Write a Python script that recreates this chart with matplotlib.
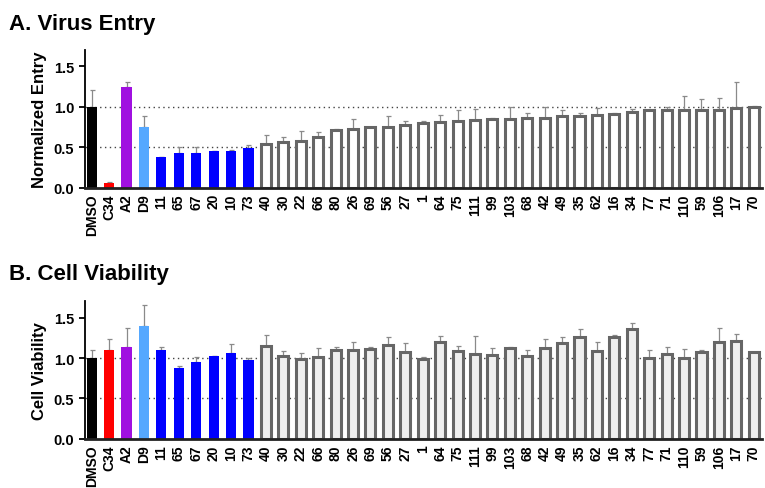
import matplotlib
matplotlib.use("Agg")
import matplotlib.pyplot as plt
import numpy as np

plt.rcParams['font.family'] = ['Liberation Sans', 'DejaVu Sans']
plt.rcParams['font.weight'] = 'bold'

labels = ['DMSO', 'C34', 'A2', 'D9', '11', '65', '67', '20', '10', '73',
          '40', '30', '22', '66', '80', '26', '69', '56', '27', '1',
          '64', '75', '111', '99', '103', '68', '42', '49', '35', '62',
          '16', '34', '77', '71', '110', '59', '106', '17', '70']

entry = [1.00, 0.05, 1.245, 0.75, 0.38, 0.425, 0.43, 0.45, 0.45, 0.495,
         0.54, 0.56, 0.575, 0.625, 0.715, 0.72, 0.745, 0.75, 0.78, 0.795,
         0.815, 0.83, 0.84, 0.845, 0.855, 0.86, 0.865, 0.88, 0.89, 0.90,
         0.915, 0.94, 0.955, 0.958, 0.96, 0.963, 0.965, 0.99, 1.00]
entry_err = [0.21, 0.02, 0.065, 0.14, 0.0, 0.075, 0.07, 0.0, 0.02, 0.035,
             0.11, 0.06, 0.13, 0.065, 0.015, 0.13, 0.007, 0.13, 0.05, 0.025,
             0.085, 0.135, 0.135, 0.02, 0.14, 0.065, 0.135, 0.08, 0.035, 0.08,
             0.007, 0.035, 0.007, 0.042, 0.17, 0.135, 0.145, 0.32, 0.005]

viab = [1.00, 1.095, 1.135, 1.40, 1.095, 0.872, 0.95, 1.025, 1.066, 0.971,
        1.15, 1.025, 0.983, 1.012, 1.103, 1.10, 1.116, 1.157, 1.07, 0.99,
        1.20, 1.087, 1.045, 1.037, 1.12, 1.029, 1.124, 1.19, 1.264, 1.083,
        1.26, 1.355, 1.004, 1.05, 0.996, 1.078, 1.198, 1.207, 1.074]
viab_err = [0.095, 0.145, 0.235, 0.26, 0.045, 0.033, 0.066, 0.0, 0.11, 0.03,
            0.14, 0.065, 0.083, 0.108, 0.037, 0.10, 0.02, 0.107, 0.116, 0.018,
            0.07, 0.062, 0.232, 0.091, 0.016, 0.074, 0.112, 0.066, 0.096, 0.117,
            0.03, 0.083, 0.096, 0.086, 0.12, 0.025, 0.178, 0.086, 0.005]

colored = ['black', '#ff0000', '#a010e0', '#55a8ff'] + ['#0000ff'] * 6
n_col = len(colored)


def draw_panel(ax, vals, errs, hollow_fill, ylabel):
    x = np.arange(len(labels))
    for y in (0.5, 1.0):
        ax.axhline(y, color='#444444', lw=1.0, ls=(0, (1, 2.5)), zorder=0)
    ax.bar(x[:n_col], vals[:n_col], width=0.58, color=colored, zorder=2)
    ax.bar(x[n_col:], vals[n_col:], width=0.58, facecolor=hollow_fill,
           edgecolor='#666666', linewidth=2.2, zorder=2)
    ax.errorbar(x, vals, yerr=[np.zeros(len(errs)), errs], fmt='none',
                ecolor='#8a8a8a', elinewidth=0.9, capsize=1.8, capthick=0.9,
                zorder=1)
    ax.set_xlim(-0.4, 38.5)
    ax.set_ylim(0, 1.71)
    ax.set_yticks([0.0, 0.5, 1.0, 1.5])
    ax.set_yticklabels(['0.0', '0.5', '1.0', '1.5'])
    ax.set_xticks(x)
    ax.set_xticklabels(labels, rotation=90)
    ax.tick_params(axis='x', length=0, pad=4, labelsize=10)
    ax.tick_params(axis='y', length=4, width=1.3, labelsize=10.5)
    for s in ('top', 'right'):
        ax.spines[s].set_visible(False)
    ax.spines['left'].set_linewidth(1.3)
    ax.spines['bottom'].set_linewidth(2.0)
    ax.spines['bottom'].set_color('#222222')
    ax.set_ylabel(ylabel, fontsize=12, fontweight='bold', labelpad=5)


fig = plt.figure(figsize=(7.65, 4.89), dpi=100)
ax1 = fig.add_axes([0.1107, 0.6145, 0.886, 0.2822])
ax2 = fig.add_axes([0.1107, 0.1008, 0.886, 0.2822])

draw_panel(ax1, entry, entry_err, 'white', 'Normalized Entry')
draw_panel(ax2, viab, viab_err, '#efefef', 'Cell Viability')

fig.text(0.012, 0.95, 'A. Virus Entry', fontsize=16, fontweight='bold', va='center')
fig.text(0.012, 0.438, 'B. Cell Viability', fontsize=16, fontweight='bold', va='center')

fig.savefig('out.png', dpi=100)
